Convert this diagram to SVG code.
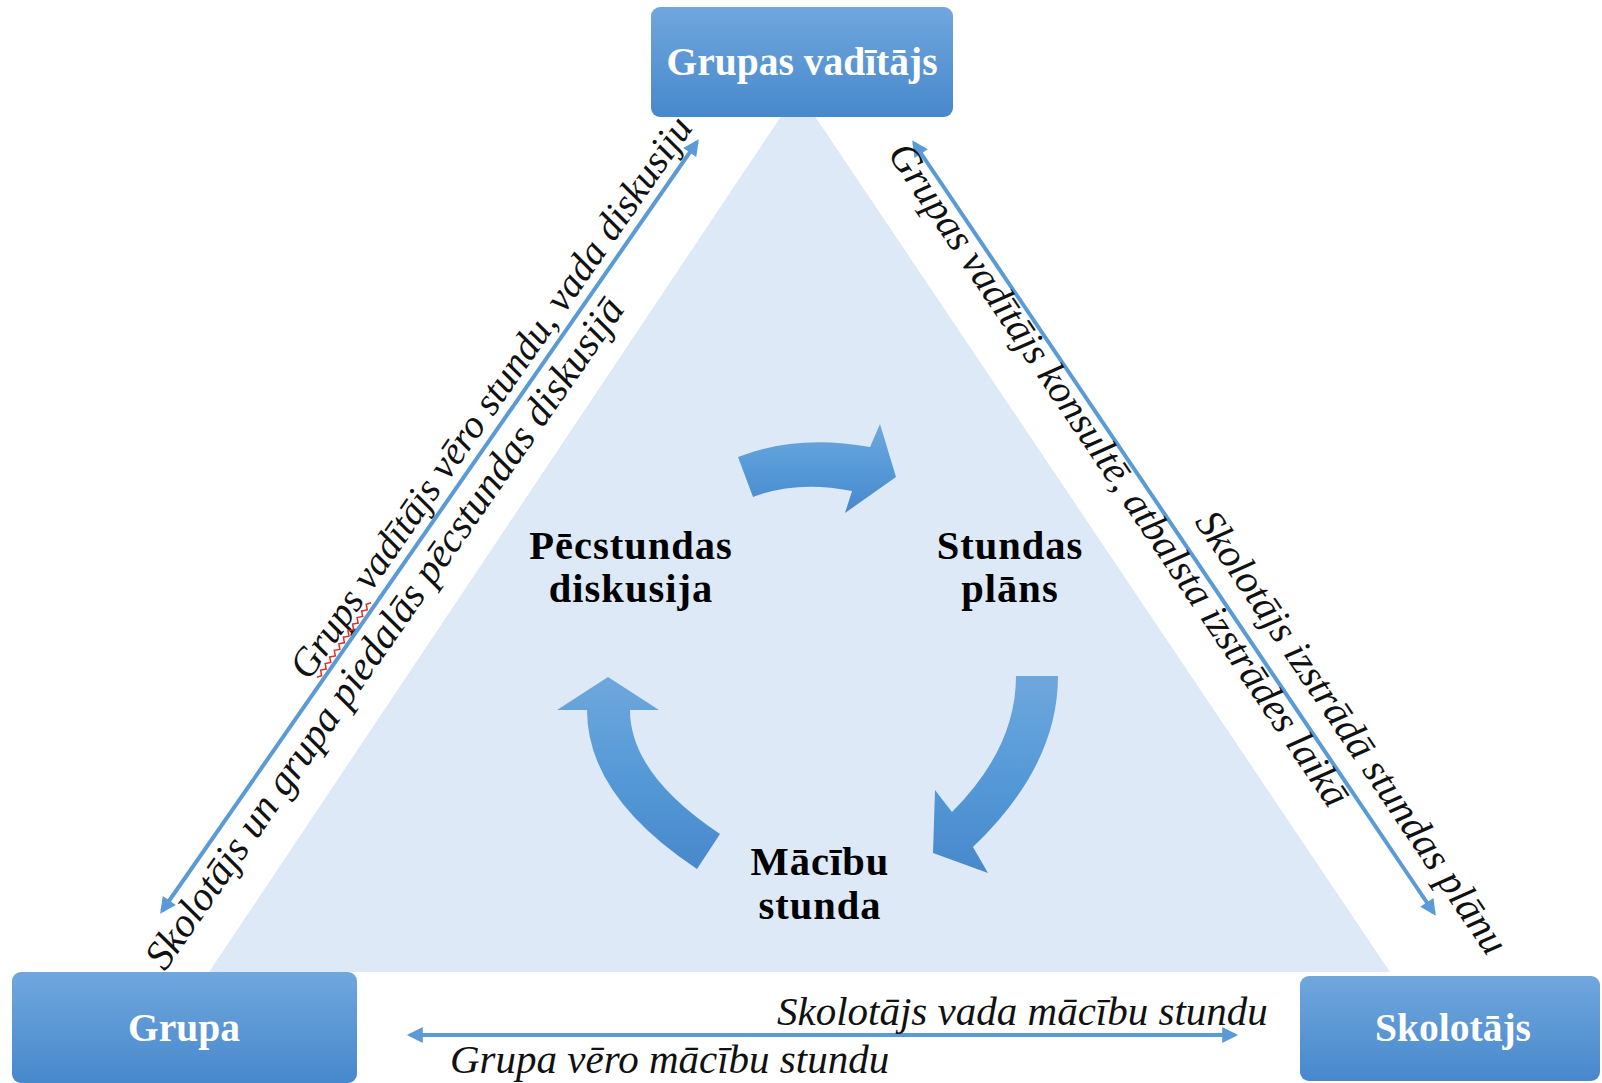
<svg xmlns="http://www.w3.org/2000/svg" width="1602" height="1083" viewBox="0 0 1602 1083">
<style>
.box{fill:url(#bg)}
.bt{font-family:"Liberation Serif","Times New Roman",serif;font-weight:bold;font-size:39.5px;fill:#ffffff;text-anchor:middle}
.ct{font-family:"Liberation Serif","Times New Roman",serif;font-weight:bold;font-size:40.5px;fill:#000000;text-anchor:middle;letter-spacing:1px}
.lt{font-family:"Liberation Serif","Times New Roman",serif;font-style:italic;font-size:41px;fill:#111111}
.cn{stroke:#5b9bd5;stroke-width:4;fill:none;marker-start:url(#ah);marker-end:url(#ah)}
.cy{fill:url(#ag)}
</style>
<defs>
<linearGradient id="bg" x1="0" y1="0" x2="0" y2="1">
<stop offset="0" stop-color="#70a7dd"/>
<stop offset="1" stop-color="#4788cc"/>
</linearGradient>
<linearGradient id="ag" x1="0" y1="0" x2="0" y2="1">
<stop offset="0" stop-color="#6fa7dc"/>
<stop offset="0.5" stop-color="#559ad8"/>
<stop offset="1" stop-color="#4888cb"/>
</linearGradient>
<marker id="ah" viewBox="0 0 10 10" refX="8" refY="5" markerWidth="20" markerHeight="16" markerUnits="userSpaceOnUse" orient="auto-start-reverse">
<path d="M0,0 L10,5 L0,10 Z" fill="#5b9bd5"/>
</marker>
</defs>
<rect width="1602" height="1083" fill="#ffffff"/>
<polygon id="triangle" points="209,972 1390,972 798,91" fill="#dde9f7"/>

<g id="connectors">
<line class="cn" x1="162" y1="911" x2="697" y2="142"/>
<line class="cn" x1="914" y1="143" x2="1434" y2="913"/>
<line class="cn" x1="410" y1="1035" x2="1235" y2="1035"/>
</g>

<g id="cycle-arrows">
<path class="cy" d="M738,457 Q796,434 870,447 L880,424 L896,477 L845,513 L852,491 Q797,480 753,497 Z"/>
<path class="cy" d="M1016,676 L1058,676 Q1058,766 973,847 L988,873 L933,853 L935,790 L952,812 Q1016,748 1016,676 Z"/>
<path class="cy" d="M697,869 Q587,796 587,710 L557,710 L608,677 L659,710 L630,710 Q630,774 720,834 Z"/>
</g>

<g id="node-pecstundas">
<text class="ct" x="631" y="559">Pēcstundas</text>
<text class="ct" x="631" y="602">diskusija</text>
</g>
<g id="node-stundas-plans">
<text class="ct" x="1010" y="559">Stundas</text>
<text class="ct" x="1010" y="602">plāns</text>
</g>
<g id="node-macibu-stunda">
<text class="ct" x="820" y="875">Mācību</text>
<text class="ct" x="820" y="919">stunda</text>
</g>

<g id="node-grupas-vaditajs">
<rect class="box" x="651" y="7" width="302" height="110" rx="9"/>
<text class="bt" x="802" y="75">Grupas vadītājs</text>
</g>
<g id="node-grupa">
<rect class="box" x="12" y="972" width="345" height="111" rx="9"/>
<text class="bt" x="184" y="1041">Grupa</text>
</g>
<g id="node-skolotajs">
<rect class="box" x="1300" y="976" width="300" height="105" rx="9"/>
<text class="bt" x="1453" y="1041">Skolotājs</text>
</g>

<g id="labels">
<g transform="translate(309,681.5) rotate(-55.2)">
<text class="lt" x="0" y="0" style="font-size:39.5px">Grups vadītājs vēro stundu, vada diskusiju</text>
<polyline points="8,4 12,7 16,3 20,7 24,3 28,7 32,3 36,7 40,3 44,7 48,3 52,7 56,3 60,7 64,3 68,7 72,3 76,7 80,3 84,7 88,3 92,7 96,3 100,6" fill="none" stroke="#e0302a" stroke-width="1.5"/>
</g>
<text class="lt" transform="translate(165,972) rotate(-55.2)">Skolotājs un grupa piedalās pēcstundas diskusijā</text>
<text class="lt" transform="translate(887,154) rotate(56)" style="font-size:40px">Grupas vadītājs konsultē, atbalsta izstrādes laikā</text>
<text class="lt" transform="translate(1194,522) rotate(56)" style="font-size:40.5px">Skolotājs izstrādā stundas plānu</text>
<text class="lt" x="777" y="1025">Skolotājs vada mācību stundu</text>
<text class="lt" x="450" y="1073">Grupa vēro mācību stundu</text>
</g>
</svg>
